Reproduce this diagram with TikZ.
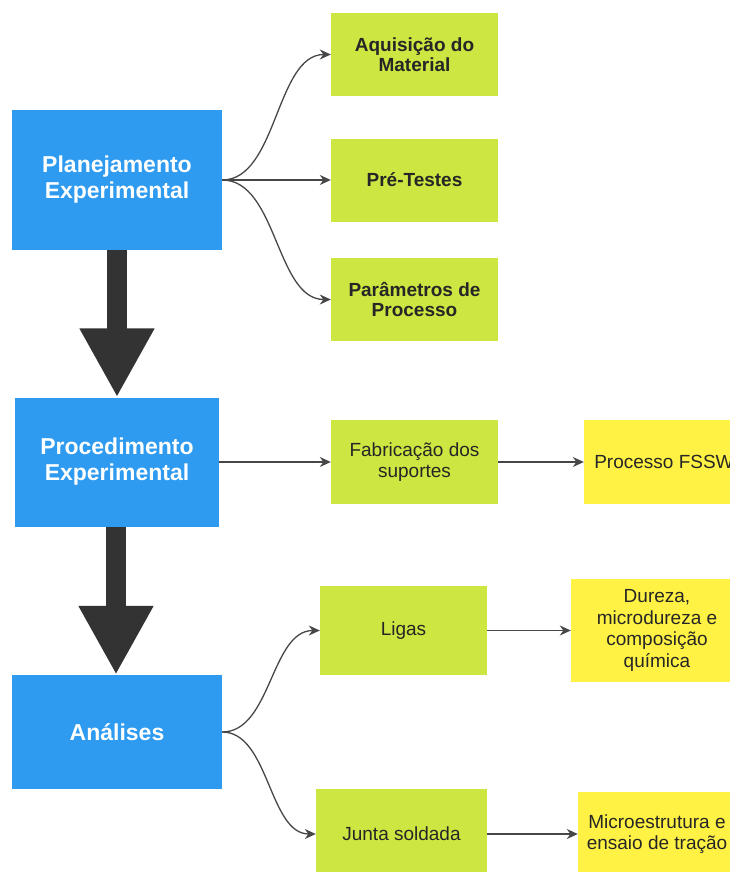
\documentclass[tikz,border=0pt]{standalone}
\usepackage{fontspec}
\setmainfont{Liberation Sans}
\usepackage{xcolor}
\usetikzlibrary{arrows.meta, calc}

\definecolor{azul}{HTML}{2E9BF0}
\definecolor{verde}{HTML}{CDE641}
\definecolor{amarelo}{HTML}{FFF244}
\definecolor{cinza}{HTML}{333333}

\begin{document}
\begin{tikzpicture}[x=1pt, y=-1pt,
	etapa/.style={fill=azul, text=white, align=center, inner sep=0pt, font=\fontsize{23}{26}\selectfont\bfseries},
	tarefa/.style={fill=verde, text=black!85, align=center, inner sep=0pt, font=\fontsize{19}{21.5}\selectfont},
	tarefab/.style={tarefa, font=\fontsize{19}{20}\selectfont\bfseries},
	resultado/.style={fill=amarelo, text=black!85, align=center, inner sep=0pt, font=\fontsize{19}{21.7}\selectfont},
	seta/.style={draw=cinza!90, line width=1.3pt, -{Stealth[length=11pt, width=10pt]}},
	setagrande/.style={draw=cinza, line width=20pt, -{Triangle[length=69pt 0, width=70pt 0]}}]
	\useasboundingbox (0,0) rectangle (730,872);
	\clip (0,0) rectangle (730,872);
	% etapas
	\node[etapa, minimum width=210pt, minimum height=140pt] (plan) at (117,180) {Planejamento\\Experimental};
	\node[etapa, minimum width=204pt, minimum height=129pt] (proc) at (117,462) {Procedimento\\Experimental};
	\node[etapa, minimum width=210pt, minimum height=114pt] (anal) at (117,732) {Análises};
	% planejamento
	\node[tarefab, minimum width=167pt, minimum height=83pt] (aquis) at (414.5,54.5) {Aquisição do\\Material};
	\node[tarefab, minimum width=167pt, minimum height=83pt] (pre) at (414.5,180) {Pré-Testes};
	\node[tarefab, minimum width=167pt, minimum height=83pt] (param) at (414.5,299.5) {Parâmetros de\\Processo};
	% procedimento
	\node[tarefa, minimum width=167pt, minimum height=84pt] (fab) at (414.5,462) {Fabricação dos\\suportes};
	\node[resultado, minimum width=160pt, minimum height=84pt] (fssw) at (664,462) {Processo FSSW};
	% analises
	\node[tarefa, minimum width=167pt, minimum height=89pt] (ligas) at (403.5,630.5) {Ligas};
	\node[resultado, minimum width=172pt, minimum height=103pt] (dureza) at (657,630.5) {Dureza,\\microdureza e\\composição\\química};
	\node[tarefa, minimum width=171pt, minimum height=90pt] (junta) at (401.5,834) {Junta soldada};
	\node[resultado, minimum width=158pt, minimum height=84pt] (micro) at (657,834) {Microestrutura e\\ensaio de tração};

	\draw[setagrande] (plan.south) -- (proc.north);
	\draw[setagrande] ($(proc.south)+(-1,0)$) -- ($(anal.north)+(-1,0)$);

	\draw[seta] (plan.east) .. controls +(55,0) and +(-55,0) .. (aquis.west);
	\draw[seta] (plan.east) -- (pre.west);
	\draw[seta] (plan.east) .. controls +(55,0) and +(-55,0) .. (param.west);
	\draw[seta] (proc.east) -- (fab.west);
	\draw[seta] (fab.east) -- (fssw.west);
	\draw[seta] (anal.east) .. controls +(49,0) and +(-49,0) .. (ligas.west);
	\draw[seta] (anal.east) .. controls +(47,0) and +(-47,0) .. (junta.west);
	\draw[seta] (ligas.east) -- (dureza.west);
	\draw[seta] (junta.east) -- (micro.west);
\end{tikzpicture}
\end{document}
